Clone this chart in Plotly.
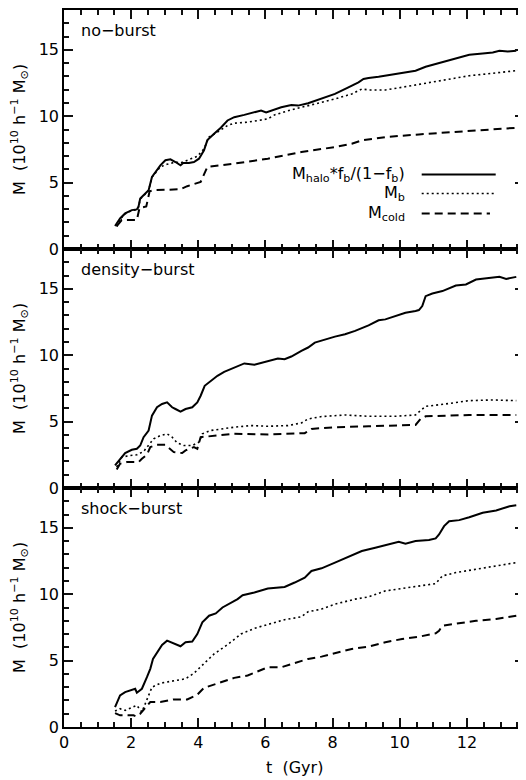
import plotly.graph_objects as go
from plotly.subplots import make_subplots

# ---------------- data ----------------
panel_names = ["no\u2212burst", "density\u2212burst", "shock\u2212burst"]
legend_labels = ["M<sub>halo</sub>*f<sub>b</sub>/(1\u2212f<sub>b</sub>)", "M<sub>b</sub>", "M<sub>cold</sub>"]
y_title = "M  (10<sup>10</sup> h<sup>\u22121</sup> M<sub>\u2299</sub>)"
x_title = "t  (Gyr)"

# no-burst
nb_halo_t = [1.52, 1.67, 1.82, 2.02, 2.17, 2.22, 2.27, 2.37, 2.52, 2.62, 2.72, 2.87, 3.02, 3.17, 3.32, 3.47, 3.55, 3.72, 3.87, 4.02, 4.17, 4.27, 4.47, 4.67, 4.87, 5.07, 5.37, 5.67, 5.87, 6.02, 6.17, 6.47, 6.77, 6.97, 7.27, 7.67, 8.07, 8.47, 8.77, 8.92, 9.07, 9.37, 9.67, 10.07, 10.47, 10.77, 11.07, 11.47, 11.77, 12.07, 12.47, 12.77, 12.97, 13.22, 13.47]
nb_halo_m = [1.73, 2.30, 2.68, 2.93, 2.98, 3.20, 3.80, 4.05, 4.43, 5.43, 5.80, 6.30, 6.68, 6.75, 6.55, 6.30, 6.48, 6.48, 6.55, 6.80, 7.43, 8.20, 8.68, 9.13, 9.68, 9.93, 10.10, 10.30, 10.43, 10.28, 10.43, 10.68, 10.85, 10.80, 10.98, 11.35, 11.68, 12.18, 12.55, 12.80, 12.88, 12.98, 13.10, 13.30, 13.43, 13.73, 13.93, 14.18, 14.43, 14.63, 14.73, 14.80, 14.93, 14.88, 14.93]
nb_b_t = [1.57, 1.67, 1.82, 2.02, 2.17, 2.22, 2.27, 2.37, 2.52, 2.62, 2.87, 3.07, 3.32, 3.47, 3.67, 3.97, 4.17, 4.32, 4.57, 4.87, 5.07, 5.47, 6.07, 6.27, 6.77, 7.27, 7.67, 8.07, 8.57, 8.87, 9.07, 9.57, 10.07, 10.67, 11.07, 11.57, 12.07, 12.57, 13.07, 13.47]
nb_b_m = [1.68, 2.25, 2.65, 2.90, 2.96, 3.15, 3.75, 4.00, 4.40, 5.40, 6.18, 6.38, 6.55, 6.48, 6.68, 6.98, 7.55, 8.43, 8.80, 9.30, 9.48, 9.55, 9.80, 10.10, 10.48, 10.78, 11.05, 11.30, 11.68, 12.05, 11.98, 11.98, 12.18, 12.43, 12.63, 12.80, 13.05, 13.18, 13.30, 13.43]
nb_cold_t = [1.57, 1.72, 2.17, 2.25, 2.45, 2.55, 2.67, 3.07, 3.47, 3.67, 3.97, 4.07, 4.27, 5.07, 6.07, 7.07, 8.07, 8.57, 8.87, 9.57, 10.57, 11.57, 12.57, 13.47]
nb_cold_m = [1.73, 2.18, 2.18, 3.10, 3.20, 4.35, 4.43, 4.45, 4.50, 4.73, 4.93, 5.05, 6.18, 6.43, 6.80, 7.30, 7.68, 7.93, 8.18, 8.43, 8.63, 8.80, 8.98, 9.13]

# density-burst
db_halo_t = [1.52, 1.67, 1.82, 2.02, 2.17, 2.27, 2.37, 2.52, 2.62, 2.77, 2.92, 3.07, 3.22, 3.32, 3.47, 3.62, 3.82, 3.97, 4.07, 4.19, 4.37, 4.57, 4.77, 5.07, 5.37, 5.67, 5.97, 6.37, 6.57, 6.77, 7.07, 7.27, 7.47, 7.77, 8.07, 8.37, 8.67, 9.07, 9.37, 9.57, 9.87, 10.17, 10.47, 10.57, 10.67, 10.77, 10.97, 11.27, 11.67, 11.97, 12.27, 12.67, 12.97, 13.17, 13.47]
db_halo_m = [1.70, 2.20, 2.63, 2.88, 2.95, 3.20, 3.83, 4.33, 5.45, 6.08, 6.33, 6.45, 6.08, 5.95, 5.75, 5.95, 6.08, 6.45, 6.95, 7.70, 8.08, 8.45, 8.75, 9.08, 9.38, 9.28, 9.50, 9.75, 9.70, 9.90, 10.33, 10.58, 10.95, 11.20, 11.40, 11.58, 11.83, 12.25, 12.63, 12.70, 12.95, 13.20, 13.33, 13.40, 13.70, 14.45, 14.65, 14.83, 15.25, 15.33, 15.70, 15.80, 15.90, 15.75, 15.90]
db_b_t = [1.57, 1.72, 1.97, 2.17, 2.37, 2.52, 2.67, 2.87, 3.07, 3.22, 3.37, 3.57, 3.82, 4.02, 4.12, 4.37, 5.07, 5.57, 6.07, 6.67, 7.07, 7.27, 7.67, 8.37, 9.07, 9.87, 10.47, 10.62, 10.77, 11.37, 12.07, 12.77, 13.47]
db_b_m = [1.58, 2.33, 2.45, 2.50, 2.75, 3.25, 3.70, 3.95, 4.08, 3.83, 3.40, 3.20, 3.20, 3.45, 4.08, 4.33, 4.58, 4.70, 4.65, 4.70, 4.90, 5.20, 5.38, 5.50, 5.40, 5.40, 5.50, 5.83, 6.15, 6.33, 6.58, 6.63, 6.58]
db_cold_t = [1.57, 1.67, 1.87, 2.22, 2.32, 2.47, 2.57, 2.77, 3.02, 3.17, 3.27, 3.52, 3.62, 3.87, 3.97, 4.07, 4.27, 5.07, 6.07, 6.87, 7.17, 7.37, 8.07, 9.07, 10.47, 10.62, 10.77, 12.07, 13.47]
db_cold_m = [1.40, 1.83, 1.95, 1.95, 2.20, 2.50, 3.08, 3.25, 3.25, 2.95, 2.70, 2.63, 2.83, 3.08, 2.95, 3.83, 3.88, 4.08, 4.03, 4.08, 4.13, 4.45, 4.58, 4.65, 4.75, 5.20, 5.40, 5.50, 5.50]

# shock-burst
sb_halo_t = [1.52, 1.67, 1.82, 2.02, 2.12, 2.17, 2.32, 2.47, 2.57, 2.65, 2.77, 2.92, 3.07, 3.17, 3.32, 3.47, 3.62, 3.82, 3.97, 4.12, 4.32, 4.52, 4.72, 4.97, 5.17, 5.32, 5.67, 6.07, 6.57, 6.87, 7.17, 7.37, 7.67, 8.07, 8.47, 8.87, 9.27, 9.67, 9.97, 10.17, 10.47, 10.87, 11.07, 11.17, 11.32, 11.47, 11.77, 12.07, 12.47, 12.87, 13.27, 13.47]
sb_halo_m = [1.50, 2.38, 2.63, 2.83, 2.88, 2.58, 2.88, 3.75, 4.38, 5.13, 5.63, 6.18, 6.50, 6.38, 6.20, 6.08, 6.38, 6.43, 7.00, 7.88, 8.38, 8.55, 9.00, 9.38, 9.63, 9.93, 10.13, 10.43, 10.55, 10.88, 11.25, 11.75, 11.95, 12.38, 12.80, 13.25, 13.50, 13.75, 13.95, 13.80, 14.00, 14.08, 14.20, 14.50, 15.13, 15.50, 15.58, 15.80, 16.13, 16.30, 16.63, 16.70]
sb_b_t = [1.52, 1.67, 1.82, 2.02, 2.17, 2.32, 2.47, 2.62, 2.87, 3.27, 3.62, 3.87, 4.17, 4.47, 4.87, 5.27, 5.67, 6.07, 6.57, 7.07, 7.27, 7.67, 8.07, 8.67, 9.07, 9.57, 10.07, 10.57, 11.07, 11.27, 11.67, 12.27, 12.87, 13.47]
sb_b_m = [1.20, 1.38, 1.25, 1.50, 1.63, 1.13, 2.00, 3.00, 3.30, 3.50, 3.63, 4.05, 4.75, 5.50, 6.20, 7.00, 7.43, 7.70, 8.08, 8.30, 8.68, 8.88, 9.25, 9.63, 9.80, 10.25, 10.45, 10.60, 10.80, 11.38, 11.63, 11.88, 12.13, 12.38]
sb_cold_t = [1.52, 1.67, 1.82, 2.07, 2.15, 2.27, 2.37, 2.57, 2.87, 3.27, 3.67, 3.97, 4.17, 4.67, 5.07, 5.47, 5.87, 6.07, 6.47, 6.87, 7.27, 7.67, 8.07, 8.57, 9.07, 9.57, 10.07, 10.57, 11.07, 11.17, 11.27, 11.67, 12.27, 12.87, 13.47]
sb_cold_m = [1.05, 0.88, 0.88, 0.88, 0.80, 1.00, 1.30, 1.88, 1.88, 2.08, 2.08, 2.43, 2.95, 3.38, 3.70, 3.88, 4.30, 4.50, 4.50, 4.80, 5.13, 5.30, 5.55, 5.88, 6.05, 6.38, 6.63, 6.80, 7.05, 7.25, 7.63, 7.80, 8.00, 8.13, 8.38]

panels = [
    [(nb_halo_t, nb_halo_m), (nb_b_t, nb_b_m), (nb_cold_t, nb_cold_m)],
    [(db_halo_t, db_halo_m), (db_b_t, db_b_m), (db_cold_t, db_cold_m)],
    [(sb_halo_t, sb_halo_m), (sb_b_t, sb_b_m), (sb_cold_t, sb_cold_m)],
]

# ---------------- styling ----------------
FONT = "DejaVu Sans, sans-serif"
TICK = "#111111"
styles = [dict(color="black", width=2.0, dash="solid"),
          dict(color="black", width=1.6, dash="2px,3px"),
          dict(color="black", width=2.0, dash="8px,5px")]

fig = make_subplots(rows=3, cols=1, shared_xaxes=True, vertical_spacing=0)

for r, series in enumerate(panels, start=1):
    for (t, m), st, name in zip(series, styles, legend_labels):
        fig.add_trace(go.Scatter(x=t, y=m, mode="lines", line=st, name=name,
                                 showlegend=False), row=r, col=1)

for r in range(1, 4):
    fig.update_xaxes(range=[0, 13.7], tickmode="linear", tick0=0, dtick=2,
                     showline=True, linecolor="black", linewidth=1.5, mirror="ticks",
                     ticks="inside", ticklen=9, tickwidth=1.6, tickcolor=TICK,
                     minor=dict(ticks="inside", dtick=0.5, ticklen=5, tickwidth=1.6, tickcolor=TICK),
                     showgrid=False, zeroline=False, showticklabels=(r == 3),
                     tickfont=dict(family=FONT, size=16, color="black"),
                     row=r, col=1)
    fig.update_yaxes(range=[0, 18], tickmode="linear", tick0=0, dtick=5,
                     showline=True, linecolor="black", linewidth=1.5, mirror="ticks",
                     ticks="inside", ticklen=9, tickwidth=1.6, tickcolor=TICK,
                     minor=dict(ticks="inside", dtick=1, ticklen=5, tickwidth=1.6, tickcolor=TICK),
                     showgrid=False, zeroline=False,
                     tickfont=dict(family=FONT, size=16, color="black"),
                     row=r, col=1)

# y titles (one per panel) and x title
for r in range(1, 4):
    yr = "y" if r == 1 else f"y{r}"
    fig.add_annotation(text=y_title, xref="paper", yref=f"{yr} domain",
                       x=-0.097, y=0.5, xanchor="center", yanchor="middle",
                       textangle=-90, showarrow=False,
                       font=dict(family=FONT, size=16, color="black"))
fig.add_annotation(text=x_title, xref="x3 domain", yref="paper", x=0.5, y=-0.0563,
                   xanchor="center", yanchor="middle", showarrow=False,
                   font=dict(family=FONT, size=16, color="black"))

# panel labels
for r, label in enumerate(panel_names, start=1):
    xr = "x" if r == 1 else f"x{r}"
    yr = "y" if r == 1 else f"y{r}"
    fig.add_annotation(text=label, xref=f"{xr} domain", yref=f"{yr} domain",
                       x=0.033, y=0.913, xanchor="left", yanchor="middle",
                       showarrow=False, font=dict(family=FONT, size=16, color="black"))

# legend in first panel: text right-aligned, sample line to the right
leg_y = [0.312, 0.232, 0.149]
leg_x_end = [0.9385, 0.9385, 0.926]
for lbl, yv, xe, st in zip(legend_labels, leg_y, leg_x_end, styles):
    fig.add_annotation(text=lbl, xref="x domain", yref="y domain", x=0.746, y=yv,
                       xanchor="right", yanchor="middle", showarrow=False,
                       font=dict(family=FONT, size=16, color="black"))
    fig.add_shape(type="line", xref="x domain", yref="y domain",
                  x0=0.7776, x1=xe, y0=yv, y1=yv,
                  line=dict(color="black", width=st["width"], dash=st["dash"]))

# the page body has an 8px margin, so the figure is offset by 8px
fig.update_layout(width=518, height=772, margin=dict(l=56, r=2, t=0, b=52.5),
                  paper_bgcolor="white", plot_bgcolor="white",
                  showlegend=False)

fig.write_html("out.html")
